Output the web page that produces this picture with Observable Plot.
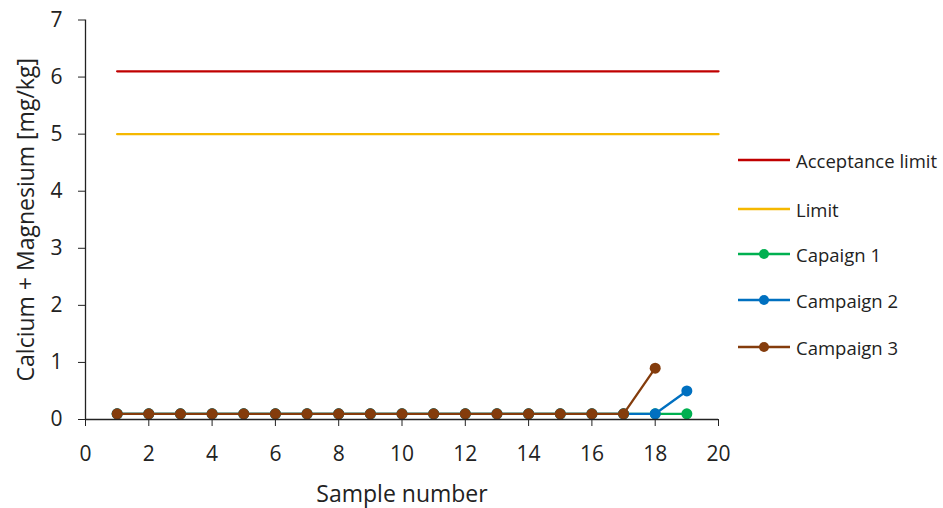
<!DOCTYPE html>
<html><head><meta charset="utf-8">
<script src="https://cdn.jsdelivr.net/npm/d3@7"></script>
<script src="https://cdn.jsdelivr.net/npm/@observablehq/plot@0.6"></script>
<style>
body{margin:0;background:#fff;font-family:"Open Sans",sans-serif;}
#wrap{position:relative;width:943px;height:508px;}
#legend{position:absolute;left:738px;top:0;font-size:18.5px;color:#222;}
.row{position:absolute;left:0;display:flex;align-items:center;white-space:nowrap;}
.row span{margin-left:6px;}
</style></head>
<body><div id="wrap"><div id="legend"></div></div>
<script>
const samples = [1,2,3,4,5,6,7,8,9,10,11,12,13,14,15,16,17,18,19];
const campaign1 = [0.1,0.1,0.1,0.1,0.1,0.1,0.1,0.1,0.1,0.1,0.1,0.1,0.1,0.1,0.1,0.1,0.1,0.1,0.1];
const campaign2 = [0.1,0.1,0.1,0.1,0.1,0.1,0.1,0.1,0.1,0.1,0.1,0.1,0.1,0.1,0.1,0.1,0.1,0.1,0.5];
const campaign3 = [0.1,0.1,0.1,0.1,0.1,0.1,0.1,0.1,0.1,0.1,0.1,0.1,0.1,0.1,0.1,0.1,0.1,0.9];
const limitX = [1,20];
const acceptanceLimit = 6.1;
const limit = 5.0;
const seriesNames = ["Acceptance limit","Limit","Capaign 1","Campaign 2","Campaign 3"];
const seriesColors = ["#C00000","#F5B800","#00B050","#0070C0","#843C0C"];
const xTicks = [0,2,4,6,8,10,12,14,16,18,20];
const yTicks = [0,1,2,3,4,5,6,7];
const xLabel = "Sample number";
const yLabel = "Calcium + Magnesium [mg/kg]";

const toRows = (vals) => vals.map((v,i)=>({x:samples[i], y:v}));
const acc = limitX.map(x=>({x, y:acceptanceLimit}));
const lim = limitX.map(x=>({x, y:limit}));
const c1 = toRows(campaign1), c2 = toRows(campaign2), c3 = toRows(campaign3);

const chart = Plot.plot({
  width:943, height:508,
  marginLeft:85, marginRight:225, marginTop:19.5, marginBottom:89,
  style:{fontFamily:"Open Sans, sans-serif", fontSize:"21px", color:"#222", background:"#fff"},
  x:{domain:[0,20]},
  y:{domain:[0,7]},
  marks:[
    Plot.axisX({ticks:xTicks, tickFormat:d=>String(d), tickSize:7, tickPadding:20, fontSize:21,
      label:null, stroke:"#222", fill:"#222"}),
    Plot.axisY({ticks:yTicks, tickFormat:d=>String(d), tickSize:7, tickPadding:16, fontSize:21,
      label:null, stroke:"#222", fill:"#222"}),
    Plot.line(acc,{x:"x",y:"y",stroke:seriesColors[0],strokeWidth:2.3}),
    Plot.line(lim,{x:"x",y:"y",stroke:seriesColors[1],strokeWidth:2.3}),
    Plot.line(c1,{x:"x",y:"y",stroke:seriesColors[2],strokeWidth:2.3}),
    Plot.dot(c1,{x:"x",y:"y",fill:seriesColors[2],r:5.5}),
    Plot.line(c2,{x:"x",y:"y",stroke:seriesColors[3],strokeWidth:2.3}),
    Plot.dot(c2,{x:"x",y:"y",fill:seriesColors[3],r:5.5}),
    Plot.line(c3,{x:"x",y:"y",stroke:seriesColors[4],strokeWidth:2.3}),
    Plot.dot(c3,{x:"x",y:"y",fill:seriesColors[4],r:5.5}),
    Plot.ruleX([0],{stroke:"#222",strokeWidth:1.3}),
    Plot.ruleY([0],{stroke:"#222",strokeWidth:1.3}),
    Plot.text([xLabel],{frameAnchor:"bottom",dy:75,lineAnchor:"middle",fontSize:23,fill:"#222"}),
    Plot.text([yLabel],{frameAnchor:"left",dx:-59,rotate:-90,textAnchor:"middle",lineAnchor:"middle",fontSize:23,fill:"#222"})
  ]
});
document.getElementById("wrap").prepend(chart);

const legend = document.getElementById("legend");
const rowY = [160,209,254,300,347];
seriesNames.forEach((name,i)=>{
  const row = document.createElement("div");
  row.className="row";
  row.style.top=(rowY[i]-13)+"px";
  row.style.height="26px";
  const dot = i>=2 ? `<circle cx="26" cy="13" r="5" fill="${seriesColors[i]}"/>` : "";
  row.innerHTML = `<svg width="52" height="26"><line x1="0" x2="52" y1="13" y2="13" stroke="${seriesColors[i]}" stroke-width="2.3"/>${dot}</svg><span>${name}</span>`;
  legend.appendChild(row);
});
</script></body></html>
